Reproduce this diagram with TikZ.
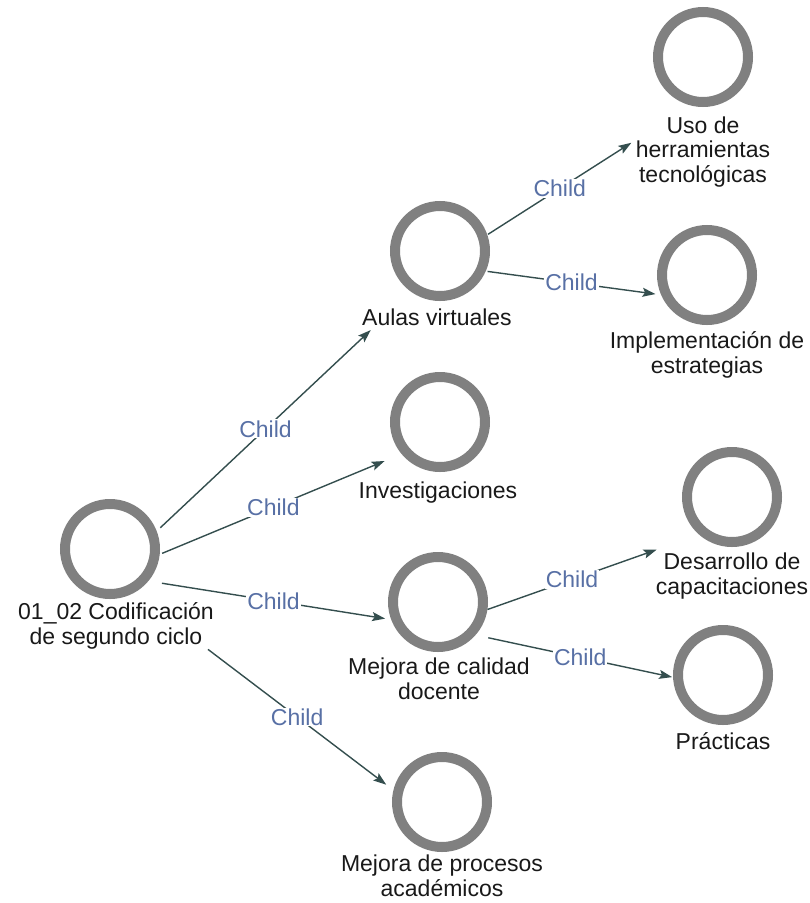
\documentclass[tikz,border=0pt]{standalone}
\usepackage{fontspec}
\setmainfont{Liberation Sans}
\usetikzlibrary{calc,arrows.meta}
\definecolor{ringgray}{RGB}{128,128,128}
\definecolor{edgecol}{RGB}{52,78,78}
\definecolor{childcol}{RGB}{88,112,165}
\definecolor{txt}{RGB}{25,25,25}
\tikzset{
  ring/.style={circle,draw=ringgray,line width=10pt,minimum size=90pt,inner sep=0pt},
  lbl/.style={align=center,inner sep=0pt,text=txt,font=\fontsize{23}{24.5}\selectfont},
  edge/.style={draw=edgecol,line width=1.4pt,-{Stealth[length=13pt,width=9pt,inset=2.5pt]}},
  childlab/.style={fill=white,inner sep=1pt,text=childcol,font=\fontsize{23}{24}\selectfont}
}
\begin{document}
\begin{tikzpicture}[x=1pt,y=-1pt]
\useasboundingbox (0,0) rectangle (810,903);
% group centres
\coordinate (root) at (110,575);
\coordinate (aulas) at (440,265);
\coordinate (uso) at (703,97);
\coordinate (impl) at (707,301);
\coordinate (invest) at (440,438);
\coordinate (calidad) at (438,627);
\coordinate (desarr) at (732,523);
\coordinate (pract) at (723,688);
\coordinate (procesos) at (442,827);
% rings
\node[ring] (root-c) at (110,549) {};
\node[ring] (aulas-c) at (440,251) {};
\node[ring] (uso-c) at (703,57) {};
\node[ring] (impl-c) at (707,275) {};
\node[ring] (invest-c) at (440,422) {};
\node[ring] (calidad-c) at (438,602) {};
\node[ring] (desarr-c) at (732,497) {};
\node[ring] (pract-c) at (723,675) {};
\node[ring] (procesos-c) at (442,802) {};
% labels
\node[lbl] (root-l) at (116,626) {01\_02 Codificación\\de segundo ciclo};
\node[lbl] (aulas-l) at (437,317) {Aulas virtuales};
\node[lbl] (uso-l) at (703,152) {Uso de\\herramientas\\tecnológicas};
\node[lbl] (impl-l) at (707,355) {Implementación de\\estrategias};
\node[lbl] (invest-l) at (438,493) {Investigaciones};
\node[lbl] (calidad-l) at (439,679) {Mejora de calidad\\docente};
\node[lbl] (desarr-l) at (732,576) {Desarrollo de\\capacitaciones};
\node[lbl] (pract-l) at (723,741) {Prácticas};
\node[lbl] (procesos-l) at (442,876) {Mejora de procesos\\académicos};
% edges
\draw[edge] ($(root)!69pt!(aulas)$) -- node[childlab] (e1) {Child} ($(aulas)!95pt!(root)$);
\draw[edge] ($(root)!56.5pt!(invest)$) -- node[childlab] (e2) {Child} ($(invest)!60pt!(root)$);
\draw[edge] ($(root)!52.6pt!(calidad)$) -- node[childlab] (e3) {Child} ($(calidad)!53.5pt!(root)$);
\draw[edge] ($(root)!123pt!(procesos)$) -- node[childlab] (e4) {Child} ($(procesos)!70pt!(root)$);
\draw[edge] ($(aulas)!57pt!(uso)$) -- node[childlab] (e5) {Child} ($(uso)!85pt!(aulas)$);
\draw[edge] ($(aulas)!48pt!(impl)$) -- node[childlab] (e6) {Child} ($(impl)!52pt!(aulas)$);
\draw[edge] ($(calidad)!52.5pt!(desarr)$) -- node[childlab] (e7) {Child} ($(desarr)!80pt!(calidad)$);
\draw[edge] ($(calidad)!51.4pt!(pract)$) -- node[childlab] (e8) {Child} ($(pract)!52pt!(calidad)$);
\end{tikzpicture}
\end{document}
